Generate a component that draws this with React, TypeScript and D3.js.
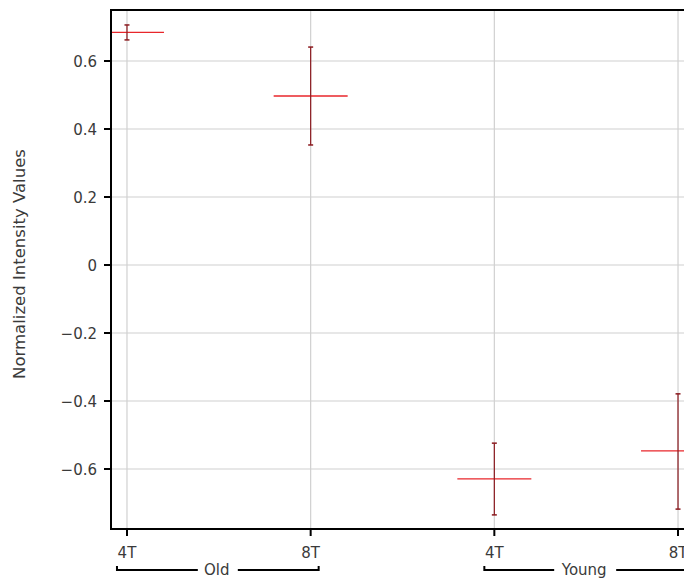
import React from "react";
import * as d3 from "d3";

const groups = ["Old", "Old", "Young", "Young"];
const categories = ["4T", "8T", "4T", "8T"];
const means = [0.684, 0.497, -0.629, -0.547];
const upper = [0.706, 0.641, -0.524, -0.379];
const lower = [0.662, 0.353, -0.735, -0.718];
const yTicks = [-0.6, -0.4, -0.2, 0, 0.2, 0.4, 0.6];
const groupNames = ["Old", "Young"];

export default function App() {
  const W = 684, H = 585;
  const left = 111, right = 694, top = 10, bottom = 529;
  const x = d3.scaleLinear().domain([-0.087, 3.087]).range([left, right]);
  const y = d3.scaleLinear().domain([-0.7765, 0.75]).range([bottom, top]);
  const halfW = 37;
  const fmt = (v: number) => (v === 0 ? "0" : d3.format(".1f")(v).replace("-", "\u2212"));
  const font = "DejaVu Sans, sans-serif";
  const fs = 15;
  const txt = "#3a3a3a";

  return (
    <svg width={W} height={H} style={{ position: "fixed", left: 0, top: 0, background: "#fff" }} fontFamily={font}>
      <defs>
        <clipPath id="plot">
          <rect x={left} y={top} width={right - left} height={bottom - top} />
        </clipPath>
      </defs>
      {/* grid */}
      {yTicks.map((t) => (
        <line key={"gy" + t} x1={left} x2={right} y1={y(t)} y2={y(t)} stroke="#d0d0d0" strokeWidth={1.2} />
      ))}
      {categories.map((c, i) => (
        <line key={"gx" + i} x1={x(i)} x2={x(i)} y1={top} y2={bottom} stroke="#d0d0d0" strokeWidth={1.2} />
      ))}
      {/* data */}
      <g clipPath="url(#plot)">
        {means.map((m, i) => (
          <g key={"d" + i}>
            <line x1={x(i) - halfW} x2={x(i) + halfW} y1={y(m)} y2={y(m)} stroke="#e8262b" strokeWidth={1.3} />
            <line x1={x(i)} x2={x(i)} y1={y(upper[i])} y2={y(lower[i])} stroke="#8b1a1f" strokeWidth={1.2} />
            <line x1={x(i) - 2.5} x2={x(i) + 2.5} y1={y(upper[i])} y2={y(upper[i])} stroke="#8b1a1f" strokeWidth={1.5} />
            <line x1={x(i) - 2.5} x2={x(i) + 2.5} y1={y(lower[i])} y2={y(lower[i])} stroke="#8b1a1f" strokeWidth={1.5} />
          </g>
        ))}
      </g>
      {/* frame */}
      <rect x={left} y={top} width={right - left} height={bottom - top} fill="none" stroke="#000" strokeWidth={2} />
      {/* y ticks */}
      {yTicks.map((t) => (
        <g key={"yt" + t}>
          <line x1={left - 7} x2={left} y1={y(t)} y2={y(t)} stroke="#000" strokeWidth={2} />
          <text x={left - 14} y={y(t)} dy="0.4em" textAnchor="end" fontSize={fs} fill={txt}>
            {fmt(t)}
          </text>
        </g>
      ))}
      {/* x ticks */}
      {categories.map((c, i) => (
        <g key={"xt" + i}>
          <line x1={x(i)} x2={x(i)} y1={bottom} y2={bottom + 7} stroke="#000" strokeWidth={2} />
          <text x={x(i)} y={bottom + 29} textAnchor="middle" fontSize={fs} fill={txt}>
            {c}
          </text>
        </g>
      ))}
      {/* group brackets */}
      {groupNames.map((g) => {
        const idx = groups.map((gg, i) => (gg === g ? i : -1)).filter((i) => i >= 0);
        const x0 = x(idx[0]) - 10;
        const x1 = x(idx[idx.length - 1]) + 8;
        const cx = (x0 + x1) / 2;
        const by = 570;
        const gap = g === "Old" ? 20 : 31;
        return (
          <g key={"g" + g}>
            <path d={`M${x0},${by - 4}V${by}H${cx - gap}`} fill="none" stroke="#000" strokeWidth={2} />
            <path d={`M${cx + gap},${by}H${x1}V${by - 4}`} fill="none" stroke="#000" strokeWidth={2} />
            <text x={cx - 1} y={by + 5} textAnchor="middle" fontSize={fs} fill={txt}>
              {g}
            </text>
          </g>
        );
      })}
      {/* y label */}
      <text transform={`translate(25,${264}) rotate(-90)`} textAnchor="middle" fontSize={16.5} fill={txt}>
        Normalized Intensity Values
      </text>
    </svg>
  );
}
